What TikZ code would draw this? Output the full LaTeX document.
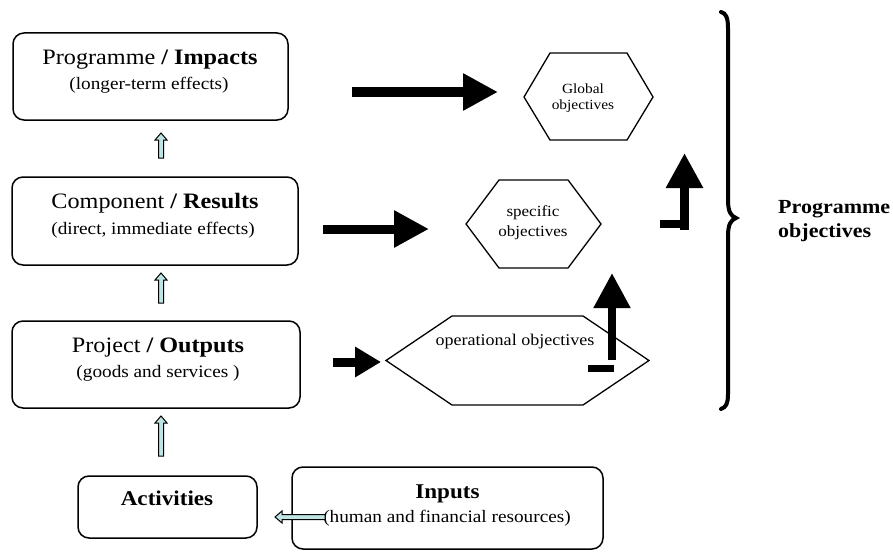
\documentclass[tikz,border=0pt]{standalone}
\usepackage{fontspec}
\setmainfont{Liberation Serif}[FakeStretch=1.1]
\usetikzlibrary{arrows.meta,calc}

\definecolor{paleblue}{RGB}{190,228,228}

% hollow block arrow from #1 to #2 (named coordinates)
\newcommand\hollowarrow[2]{%
  \filldraw[hollow] let \p1=($(#2)-(#1)$), \n1={atan2(\y1,\x1)}, \n2={veclen(\x1,\y1)} in
    [shift={(#1)}, rotate=\n1]
    (0,2.5) -- (\n2-7,2.5) -- (\n2-7,6) -- (\n2,0) -- (\n2-7,-6) -- (\n2-7,-2.5) -- (0,-2.5) -- cycle;}

\begin{document}
\begin{tikzpicture}[x=1pt,y=-1pt,
  box/.style={draw, line width=1.5pt, rounded corners=11pt, inner sep=0pt},
  hexa/.style={draw, line width=1.3pt, line join=miter},
  txt/.style={inner sep=0pt, anchor=base},
  big/.style={font=\fontsize{22}{24}\selectfont},
  small/.style={font=\fontsize{17.5}{20}\selectfont},
  bold/.style={font=\bfseries\fontsize{21}{23}\selectfont},
  bigarrow/.style={line width=10pt, -{Triangle[length=35pt,width=35pt]}},
  hollow/.style={draw=black, line width=1pt, fill=paleblue, line join=miter}]

\useasboundingbox (0,0) rectangle (893,551);

% ---- level boxes ----
\node[box, minimum width=275pt, minimum height=87pt] (impacts) at (150.5,76.5) {};
\node[txt, big] (impacts-t) at (150,64) {Programme \textbf{/ Impacts}};
\node[txt, small] (impacts-s) at (149,89) {(longer-term effects)};

\node[box, minimum width=286pt, minimum height=88pt] (results) at (155,221) {};
\node[txt, big] (results-t) at (155,208) {Component \textbf{/ Results}};
\node[txt, small] (results-s) at (153,234) {(direct, immediate effects)};

\node[box, minimum width=288pt, minimum height=87pt] (outputs) at (156,364.5) {};
\node[txt, big] (outputs-t) at (158,352) {Project \textbf{/ Outputs}};
\node[txt, small] (outputs-s) at (158,377) {(goods and services )};

\node[box, minimum width=179pt, minimum height=62pt] (activities) at (167.5,507) {};
\node[txt, bold] (activities-t) at (167,505) {Activities};

\node[box, minimum width=311pt, minimum height=82pt] (inputs) at (447.5,508) {};
\node[txt, bold] (inputs-t) at (447.5,498) {Inputs};
\node[txt, small] (inputs-s) at (447,522) {(human and financial resources)};

% ---- objective hexagons ----
\draw[hexa] (524,97) -- (550,53) -- (627,53) -- (653,97) -- (627,140) -- (550,140) -- cycle;
\node[txt, font=\fontsize{14}{16}\selectfont] (global-a) at (583,93) {Global};
\node[txt, font=\fontsize{14}{16}\selectfont] (global-b) at (583,109) {objectives};

\draw[hexa] (466,224) -- (499,180) -- (568,180) -- (601,224) -- (568,268) -- (499,268) -- cycle;
\node[txt, font=\fontsize{15.5}{18}\selectfont] (specific-a) at (533,216) {specific};
\node[txt, font=\fontsize{15.5}{18}\selectfont] (specific-b) at (533,236) {objectives};

\draw[hexa] (386,360.5) -- (452,316) -- (583,316) -- (649,360.5) -- (583,405) -- (452,405) -- cycle;
\node[txt, font=\fontsize{16.4}{19}\selectfont] (operational) at (515,345) {operational objectives};

% ---- thick black arrows ----
\coordinate (a1s) at (352,92);  \coordinate (a1e) at (498,92);
\coordinate (a2s) at (323,229); \coordinate (a2e) at (429,229);
\coordinate (a3s) at (333,362); \coordinate (a3e) at (381,362);
\draw[bigarrow] (a1s) -- (a1e);
\draw[bigarrow, line width=9pt] (a2s) -- (a2e);
\draw[line width=9pt, -{Triangle[length=26pt,width=29pt]}] (a3s) -- (a3e);

% stepped arrows rising towards the higher objectives
\coordinate (upA-l) at (660,224); \coordinate (upA-r) at (689,224);
\coordinate (upA-s) at (684.5,230); \coordinate (upA-e) at (684.5,153);
\draw[line width=8pt] (upA-l) -- (upA-r);
\draw[bigarrow, line width=9pt] (upA-s) -- (upA-e);

\coordinate (upB-l) at (588,368.5); \coordinate (upB-r) at (614,368.5);
\coordinate (upB-s) at (612,360); \coordinate (upB-e) at (612,273);
\draw[line width=7pt] (upB-l) -- (upB-r);
\draw[bigarrow, line width=8pt] (upB-s) -- (upB-e);

% ---- hollow pale arrows between levels ----
\coordinate (h1s) at (161,158); \coordinate (h1e) at (161,133);
\coordinate (h2s) at (161,303); \coordinate (h2e) at (161,273);
\coordinate (h3s) at (161,456); \coordinate (h3e) at (161,416);
\coordinate (h4s) at (325,517); \coordinate (h4e) at (275,517);
\hollowarrow{h1s}{h1e}
\hollowarrow{h2s}{h2e}
\hollowarrow{h3s}{h3e}
\hollowarrow{h4s}{h4e}

% ---- curly brace and its label ----
\draw[line width=4pt, line cap=round]
  (721,12) .. controls (726,13) and (728,18) .. (728,28) -- (728,200)
  .. controls (728,212) and (731,216) .. (736,218)
  .. controls (731,220) and (728,224) .. (728,236) -- (728,394)
  .. controls (728,404) and (726,407) .. (721,409);
\node[txt, anchor=base west, font=\bfseries\fontsize{20}{22}\selectfont] (progobj-a) at (778,213) {Programme};
\node[txt, anchor=base west, font=\bfseries\fontsize{20}{22}\selectfont] (progobj-b) at (778,237) {objectives};

\end{tikzpicture}
\end{document}
